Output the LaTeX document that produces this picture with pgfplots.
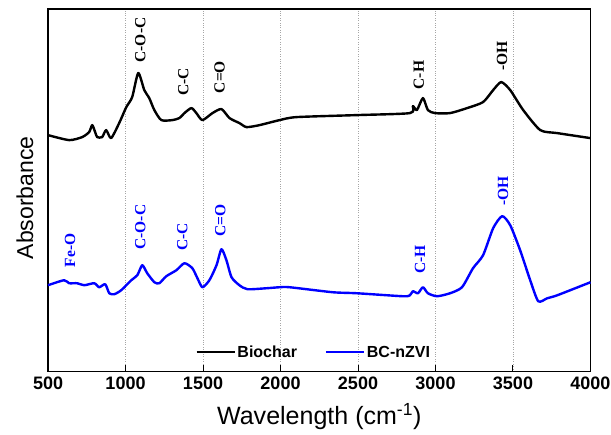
\documentclass[border=0pt]{standalone}
\usepackage{pgfplots}
\pgfplotsset{compat=1.18}
\usepackage{fontspec}
\setmainfont{Liberation Sans}
\newfontfamily\serifb{Liberation Serif}
\definecolor{myblue}{RGB}{0,0,255}
\begin{document}
\begin{tikzpicture}
\begin{axis}[
  scale only axis, width=542pt, height=362pt,
  xmin=500, xmax=4000, ymin=-7, ymax=355,
  xtick={500,1000,...,4000}, ytick=\empty,
  scaled x ticks=false,
  /pgf/number format/1000 sep={},
  /pgf/number format/assume math mode=true,
  xtick pos=bottom, tick align=inside, major tick length=6pt,
  tick style={line width=1pt, black},
  xticklabel style={font=\fontsize{18}{18}\selectfont\bfseries, yshift=-2.5pt},
  axis line style={line width=1.6pt},
  xmajorgrids, grid style={dotted, gray!70, line width=0.6pt},
  xlabel={Wavelength (cm\textsuperscript{-1})},
  xlabel style={font=\fontsize{25}{25}\selectfont, at={(axis description cs:0.5,-0.1464)}, anchor=base},
  ylabel={Absorbance},
  ylabel style={font=\fontsize{23}{23}\selectfont, at={(axis description cs:-0.0277,0.479)}, anchor=base},
  legend columns=2,
  legend style={draw=none, fill=none, at={(axis description cs:0.49,0.0525)}, anchor=center,
    font=\fontsize{16}{16}\selectfont\bfseries, /tikz/every even column/.append style={column sep=26pt}},
  legend image code/.code={\draw[#1, line width=1.8pt] (0pt,0pt) -- (38pt,0pt);},
  every axis plot/.append style={line width=2.4pt, line join=round},
  clip=false,
]
\addplot[black, smooth, tension=0.4] coordinates {
(500,229)(636,224)(720,227)(765,232)(785,239)(804,232)(817,227)(849,227)(875,234)(907,226)
(959,241)(1005,257)(1043,267)(1082,291)(1121,274)(1153,266)(1186,254)(1231,244)(1302,244)
(1347,246)(1380,251)(1425,256)(1457,251)(1496,244)(1561,251)(1619,255)(1671,246)(1735,241)
(1781,237)(1865,239)(1994,244)(2104,247)(2492,249)(2835,251)(2854,258)(2880,254)(2919,266)
(2951,254)(2997,251)(3094,251)(3204,256)(3307,262)(3372,274)(3424,282)(3482,274)(3566,254)
(3676,234)(3786,231)(4000,226)
};
\addlegendentry{Biochar}
\addplot[myblue, smooth, tension=0.4] coordinates {
(500,79)(603,84)(636,81)(688,81)(733,79)(798,81)(830,77)(869,80)(895,71)(927,70)(972,74)
(1037,84)(1076,89)(1108,99)(1140,91)(1186,82)(1218,81)(1263,88)(1328,94)(1380,101)(1431,96)
(1464,86)(1496,77)(1541,84)(1587,99)(1619,115)(1651,104)(1684,87)(1735,79)(1787,75)(1910,76)
(1994,77)(2059,77)(2337,72)(2492,71)(2790,68)(2835,69)(2854,73)(2887,71)(2919,77)(2951,71)
(3010,68)(3094,71)(3171,77)(3242,96)(3307,109)(3372,136)(3430,148)(3482,139)(3546,114)
(3611,84)(3663,63)(3721,66)(3786,69)(4000,82)
};
\addlegendentry{BC-nZVI}
\begin{scope}[every node/.style={rotate=90, font=\fontsize{15.5}{15.5}\serifb\bfseries, inner sep=0pt}]
\node[black] at (axis cs:1095,324) {C-O-C};
\node[black] at (axis cs:1373,282) {C-C};
\node[black] at (axis cs:1606,287) {C=O};
\node[black] at (axis cs:2893,289) {C-H};
\node[black] at (axis cs:3430,308) {-OH};
\node[myblue] at (axis cs:642,114) {Fe-O};
\node[myblue] at (axis cs:1095,137) {C-O-C};
\node[myblue] at (axis cs:1367,127) {C-C};
\node[myblue] at (axis cs:1612,144) {C=O};
\node[myblue] at (axis cs:2900,105) {C-H};
\node[myblue] at (axis cs:3436,173) {-OH};
\end{scope}
\end{axis}
\pgfresetboundingbox
\path[use as bounding box] ([xshift=-48pt,yshift=-63pt]current axis.south west) rectangle ([xshift=20.5pt,yshift=9pt]current axis.north east);
\end{tikzpicture}
\end{document}
